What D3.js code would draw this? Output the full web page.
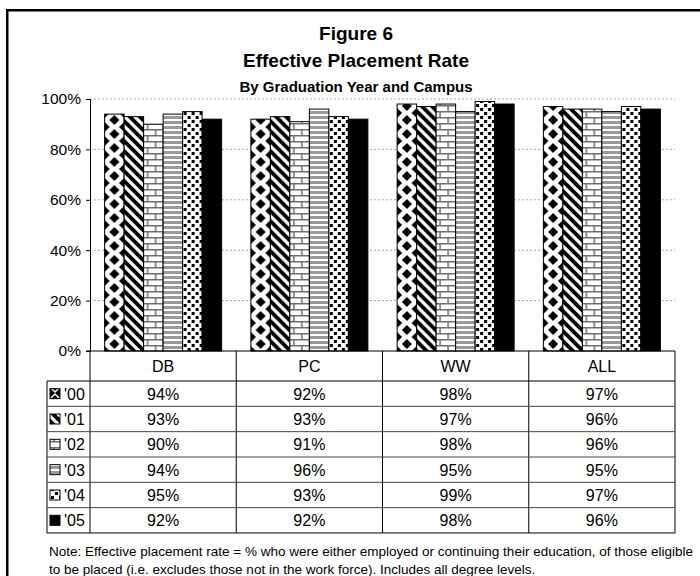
<!DOCTYPE html>
<html>
<head>
<meta charset="utf-8">
<script src="https://cdn.jsdelivr.net/npm/d3@7"></script>
<style>
  html, body { margin: 0; padding: 0; background: #fff; }
  svg { display: block; font-family: "Liberation Sans", Arial, sans-serif; }
</style>
</head>
<body>
<svg id="chart" width="700" height="576"></svg>
<script>
// ---------- data ----------
const categories = ["DB", "PC", "WW", "ALL"];
const years = ["'00", "'01", "'02", "'03", "'04", "'05"];
const v00 = [94, 92, 98, 97];
const v01 = [93, 93, 97, 96];
const v02 = [90, 91, 98, 96];
const v03 = [94, 96, 95, 95];
const v04 = [95, 93, 99, 97];
const v05 = [92, 92, 98, 96];
const seriesValues = [v00, v01, v02, v03, v04, v05];
const yTicks = [0, 20, 40, 60, 80, 100];
const titleLines = ["Figure 6", "Effective Placement Rate"];
const subtitle = "By Graduation Year and Campus";
const noteLines = [
  "Note: Effective placement rate = % who were either employed or continuing their education, of those eligible",
  "to be placed (i.e. excludes those not in the work force).  Includes all degree levels."
];

// ---------- layout ----------
const svg = d3.select("#chart");
const defs = svg.append("defs");
const plotL = 90, plotR = 675, plotT = 99, plotB = 351;
const headerH = 30, rowH = 25.33, labelL = 47;

// outer frame
svg.append("rect").attr("x", 7.25).attr("y", 10.25).attr("width", 720).attr("height", 600)
  .attr("fill", "none").attr("stroke", "#000").attr("stroke-width", 2.5);

// titles
const cx = 356;
svg.append("text").attr("x", cx).attr("y", 40).attr("text-anchor", "middle")
  .attr("font-weight", "bold").attr("font-size", 19).text(titleLines[0]);
svg.append("text").attr("x", cx).attr("y", 67).attr("text-anchor", "middle")
  .attr("font-weight", "bold").attr("font-size", 19).text(titleLines[1]);
svg.append("text").attr("x", cx).attr("y", 92).attr("text-anchor", "middle")
  .attr("font-weight", "bold").attr("font-size", 15).text(subtitle);

// scales
const x0 = d3.scaleBand().domain(categories).range([plotL, plotR]).paddingInner(0.2).paddingOuter(0.1);
const x1 = d3.scaleBand().domain(d3.range(years.length)).range([0, x0.bandwidth()]);
const y = d3.scaleLinear().domain([0, 100]).range([plotB, plotT]);
const bw = x1.bandwidth();

// ---------- patterns ----------
function fillPattern(p, s, w) {
  if (s === 0) { // diamonds
    const h = 14, hw = 5, hh = 5;
    p.attr("width", w).attr("height", h);
    p.append("rect").attr("width", w).attr("height", h).attr("fill", "#fff");
    const pts = [[w / 2, h / 2], [0, 0], [w, 0], [0, h], [w, h]];
    pts.forEach(([a, b]) => p.append("polygon")
      .attr("points", `${a},${b - hh} ${a + hw},${b} ${a},${b + hh} ${a - hw},${b}`).attr("fill", "#000"));
  } else if (s === 1) { // wide downward diagonal
    const t = 10;
    p.attr("width", t).attr("height", t);
    p.append("rect").attr("width", t).attr("height", t).attr("fill", "#fff");
    p.append("path").attr("d", `M-5,-5L15,15M-5,5L5,15M5,-5L15,5`)
      .attr("stroke", "#000").attr("stroke-width", 3.8);
  } else if (s === 2) { // bricks
    const bwid = 16, bh = 12;
    p.attr("width", bwid).attr("height", bh);
    p.append("rect").attr("width", bwid).attr("height", bh).attr("fill", "#fff");
    p.append("path").attr("d", `M0,0.75H${bwid}M0,6.75H${bwid}M4,0V6.75M12,6.75V12`)
      .attr("stroke", "#6e6e6e").attr("stroke-width", 1.5).attr("fill", "none");
  } else if (s === 3) { // horizontal stripes
    p.attr("width", 8).attr("height", 5);
    p.append("rect").attr("width", 8).attr("height", 5).attr("fill", "#fff");
    p.append("rect").attr("width", 8).attr("height", 3).attr("fill", "#9a9a9a");
  } else if (s === 4) { // dotted squares
    p.attr("width", 8).attr("height", 8);
    p.append("rect").attr("width", 8).attr("height", 8).attr("fill", "#fff");
    p.append("rect").attr("x", 1).attr("y", 1).attr("width", 3).attr("height", 3).attr("fill", "#000");
    p.append("rect").attr("x", 5).attr("y", 5).attr("width", 3).attr("height", 3).attr("fill", "#000");
  }
}
function makePattern(id, s, x0pos, w) {
  const p = defs.append("pattern").attr("id", id).attr("patternUnits", "userSpaceOnUse")
    .attr("x", x0pos).attr("y", plotB);
  fillPattern(p, s, w);
  return `url(#${id})`;
}
function fillFor(s, c, xpos, w) {
  if (s === 5) return "#000";
  return makePattern(`p${s}_${c}`, s, xpos, w);
}

// gridlines
svg.append("g").selectAll("line").data(yTicks.filter(d => d > 0)).join("line")
  .attr("x1", plotL).attr("x2", plotR).attr("y1", d => y(d)).attr("y2", d => y(d))
  .attr("stroke", "#a8a8a8").attr("stroke-dasharray", "2,2").attr("stroke-width", 1);

// bars
const barG = svg.append("g");
seriesValues.forEach((vals, s) => {
  barG.append("g").selectAll("rect").data(vals).join("rect")
    .attr("x", (d, c) => x0(categories[c]) + x1(s))
    .attr("y", d => y(d))
    .attr("width", bw)
    .attr("height", d => plotB - y(d))
    .attr("fill", (d, c) => fillFor(s, c, x0(categories[c]) + x1(s), bw))
    .attr("stroke", "#000").attr("stroke-width", 1);
});

// y axis
const yAxis = d3.axisLeft(y).tickValues(yTicks).tickFormat(d => d + "%").tickSize(4).tickPadding(5);
const yg = svg.append("g").attr("transform", `translate(${plotL},0)`).call(yAxis);
yg.select(".domain").attr("stroke", "#000");
yg.selectAll(".tick line").attr("stroke", "#000");
yg.selectAll(".tick text").attr("font-size", 15.5).attr("fill", "#000")
  .attr("font-family", "Liberation Sans, Arial, sans-serif");

// ---------- data table ----------
const tableG = svg.append("g");
const tableB = plotB + headerH + rowH * years.length;
tableG.selectAll("text.cat").data(categories).join("text").attr("class", "cat")
  .attr("x", d => x0(d) + x0.bandwidth() / 2).attr("y", plotB + headerH / 2 + 5.5)
  .attr("text-anchor", "middle").attr("font-size", 16).text(d => d);
const colEdges = categories.map(d => x0(d) - x0.step() * x0.paddingInner() / 2);
colEdges.push(plotR);
colEdges[0] = plotL;
tableG.selectAll("line.col").data(colEdges).join("line").attr("class", "col")
  .attr("x1", d => d).attr("x2", d => d).attr("y1", plotB).attr("y2", tableB)
  .attr("stroke", "#000").attr("stroke-width", 1);
tableG.append("line").attr("x1", labelL).attr("x2", labelL)
  .attr("y1", plotB + headerH).attr("y2", tableB).attr("stroke", "#000");
const rowEdges = d3.range(years.length + 1).map(i => plotB + headerH + i * rowH);
tableG.selectAll("line.row").data(rowEdges).join("line").attr("class", "row")
  .attr("x1", labelL).attr("x2", plotR).attr("y1", d => d).attr("y2", d => d)
  .attr("stroke", (d, i) => (i === 0 || i === years.length) ? "#000" : "#444").attr("stroke-width", 1);
tableG.append("line").attr("x1", plotL - 4).attr("x2", plotR).attr("y1", plotB).attr("y2", plotB)
  .attr("stroke", "#000");

years.forEach((yr, s) => {
  const rowTop = plotB + headerH + s * rowH;
  const cy = rowTop + rowH / 2;
  const kx = 50, ks = 10;
  const kf = fillFor(s, "key", kx, ks);
  tableG.append("rect").attr("x", kx).attr("y", cy - ks / 2).attr("width", ks).attr("height", ks)
    .attr("fill", kf).attr("stroke", "#000").attr("stroke-width", 1);
  tableG.append("text").attr("x", 64).attr("y", cy + 6).attr("font-size", 16).text(yr);
  tableG.selectAll(null).data(seriesValues[s]).join("text")
    .attr("x", (d, c) => x0(categories[c]) + x0.bandwidth() / 2)
    .attr("y", cy + 6).attr("text-anchor", "middle").attr("font-size", 16)
    .text(d => d + "%");
});

// note
svg.selectAll("text.note").data(noteLines).join("text").attr("class", "note")
  .attr("x", 49).attr("y", (d, i) => 556 + i * 18).attr("font-size", 13.5).text(d => d);
</script>
</body>
</html>
